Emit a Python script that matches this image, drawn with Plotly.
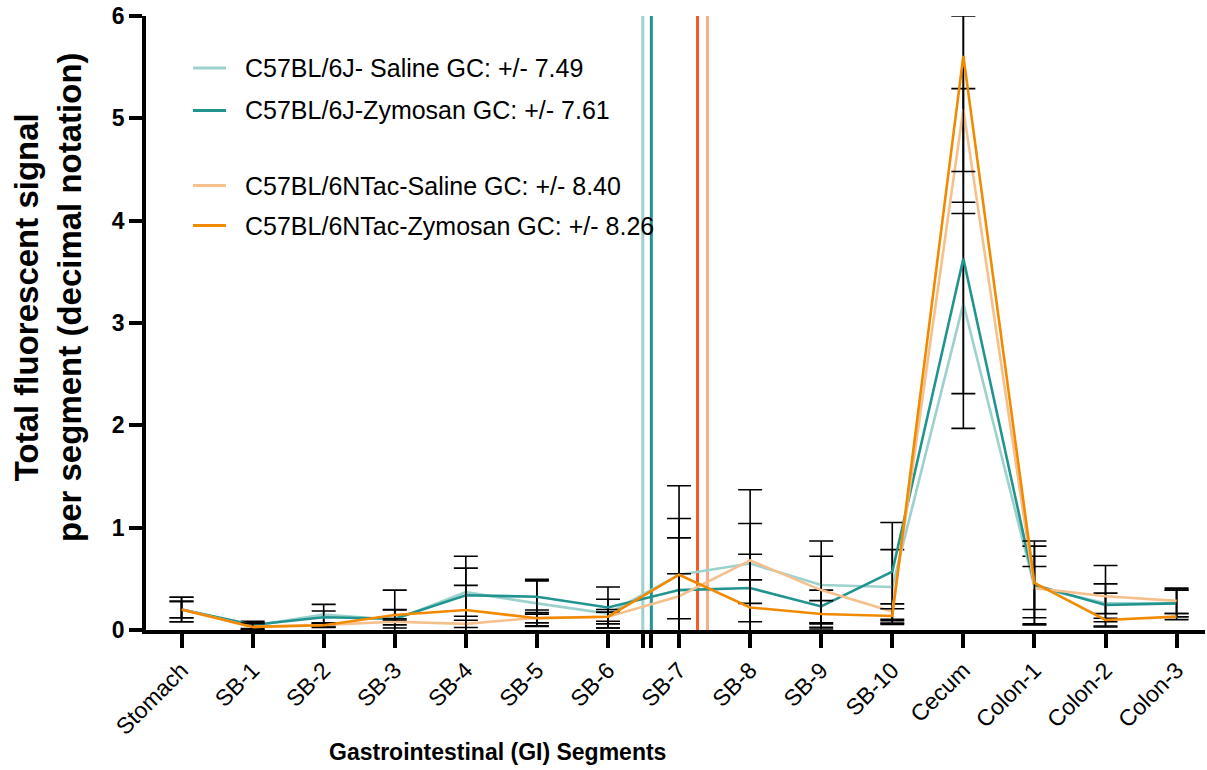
import plotly.graph_objects as go

categories = ["Stomach", "SB-1", "SB-2", "SB-3", "SB-4", "SB-5", "SB-6", "SB-7",
              "SB-8", "SB-9", "SB-10", "Cecum", "Colon-1", "Colon-2", "Colon-3"]
positions = list(range(1, 16))

names = ["C57BL/6J- Saline GC: +/- 7.49",
         "C57BL/6J-Zymosan GC: +/- 7.61",
         "C57BL/6NTac-Saline GC: +/- 8.40",
         "C57BL/6NTac-Zymosan GC: +/- 8.26"]

saline_6J = [0.20, 0.04, 0.15, 0.10, 0.37, 0.26, 0.16, 0.54, 0.65, 0.44, 0.42, 3.19, 0.42, 0.26, 0.26]
saline_6J_err = [0.12, 0.035, 0.10, 0.29, 0.235, 0.22, 0.14, 0.87, 0.39, 0.43, 0.365, 0.88, 0.30, 0.10, 0.13]

zymosan_6J = [0.20, 0.05, 0.125, 0.11, 0.34, 0.325, 0.22, 0.39, 0.41, 0.23, 0.57, 3.63, 0.44, 0.245, 0.26]
zymosan_6J_err = [0.08, 0.035, 0.06, 0.09, 0.38, 0.17, 0.20, 0.51, 0.33, 0.16, 0.48, 1.66, 0.38, 0.206, 0.13]

saline_NTac = [0.20, 0.03, 0.05, 0.08, 0.06, 0.12, 0.13, 0.33, 0.68, 0.39, 0.18, 5.09, 0.41, 0.33, 0.285]
saline_NTac_err = [0.08, 0.035, 0.02, 0.03, 0.035, 0.05, 0.045, 0.22, 0.69, 0.33, 0.075, 0.91, 0.21, 0.30, 0.124]

zymosan_NTac = [0.20, 0.03, 0.046, 0.147, 0.196, 0.115, 0.13, 0.54, 0.22, 0.157, 0.137, 5.61, 0.46, 0.098, 0.131]
zymosan_NTac_err = [0.12, 0.035, 0.02, 0.05, 0.24, 0.08, 0.07, 0.55, 0.27, 0.13, 0.07, 1.13, 0.41, 0.017, 0.03]

gc_values = [7.49, 7.61, 8.40, 8.26]

y_ticks = [0, 1, 2, 3, 4, 5, 6]

line_colors = ["#9DD1CD", "#22948F", "#F5C08C", "#F18A00"]
gc_colors = ["#9DD1CD", "#22948F", "#F5AE8E", "#F05A24"]

series = [(saline_6J, saline_6J_err), (zymosan_6J, zymosan_6J_err),
          (saline_NTac, saline_NTac_err), (zymosan_NTac, zymosan_NTac_err)]

FONT = "Liberation Sans, Arial, Helvetica, sans-serif"

# the page body margin is removed (post_script below), so figure pixels == page pixels
W, H = 1207, 770
L, R, T, B = 146, 2, 16, 140
pw, ph = W - L - R, H - T - B


def px(xp):
    return (xp - L) / pw


def py(yp):
    return (H - B - yp) / ph


fig = go.Figure()

# GC vertical lines
for gc, col in zip(gc_values, gc_colors):
    fig.add_trace(go.Scatter(x=[gc, gc], y=[0, 6], mode="lines",
                             line=dict(color=col, width=3), showlegend=False,
                             hoverinfo="skip"))

for (vals, errs), col, nm in zip(series, line_colors, names):
    fig.add_trace(go.Scatter(
        x=positions, y=vals, mode="lines", name=nm,
        line=dict(color=col, width=2.6),
        error_y=dict(type="data", array=errs, visible=True, color="black",
                     thickness=1.6, width=12),
        showlegend=False))

# manual legend (samples + labels)
legend_rows_px = [68, 110.5, 185.5, 225.5]
for yp, col, nm in zip(legend_rows_px, line_colors, names):
    fig.add_shape(type="line", xref="paper", yref="paper",
                  x0=px(193), x1=px(226), y0=py(yp), y1=py(yp),
                  line=dict(color=col, width=3))
    fig.add_annotation(xref="paper", yref="paper", x=px(243), y=py(yp),
                       text=nm, showarrow=False, xanchor="left", yanchor="middle",
                       font=dict(family=FONT, size=25, color="black"))

# x-axis title
fig.add_annotation(xref="paper", yref="paper", x=px(497), y=py(752),
                   text="<b>Gastrointestinal (GI) Segments</b>", showarrow=False,
                   xanchor="center", yanchor="middle",
                   font=dict(family=FONT, size=23, color="black"))

# y-axis title
fig.add_annotation(xref="paper", yref="paper", x=px(48), y=py(297),
                   text="<b>Total fluorescent signal<br>per segment (decimal notation)</b>",
                   showarrow=False, textangle=-90, xanchor="center", yanchor="middle",
                   font=dict(family=FONT, size=33, color="black"))

tickvals = positions + gc_values[:2]
ticktext = categories + ["", ""]

fig.update_layout(
    width=W, height=H,
    margin=dict(l=L, r=R, t=T, b=B, autoexpand=False),
    plot_bgcolor="white", paper_bgcolor="white",
    font=dict(family=FONT, color="black"),
    showlegend=False,
    xaxis=dict(range=[0.5, 15.4], tickmode="array", tickvals=tickvals, ticktext=ticktext,
               tickangle=-45, tickfont=dict(size=23, family=FONT),
               showline=True, linewidth=3.5, linecolor="black",
               ticks="outside", ticklen=14, tickwidth=3.5, tickcolor="black",
               ticklabeloverflow="allow", automargin=False,
               showgrid=False, zeroline=False),
    yaxis=dict(range=[0, 6], tickmode="array", tickvals=y_ticks,
               ticktext=[str(v) for v in y_ticks],
               tickfont=dict(size=23, family=FONT, weight="bold"),
               showline=True, linewidth=3.5, linecolor="black",
               ticks="outside", ticklen=13, tickwidth=3.5, tickcolor="black",
               ticklabeloverflow="allow", automargin=False,
               showgrid=False, zeroline=False),
)

fig.write_html("out.html",
               config={"displayModeBar": False},
               post_script="document.body.style.margin='0';document.body.style.overflow='hidden';")
